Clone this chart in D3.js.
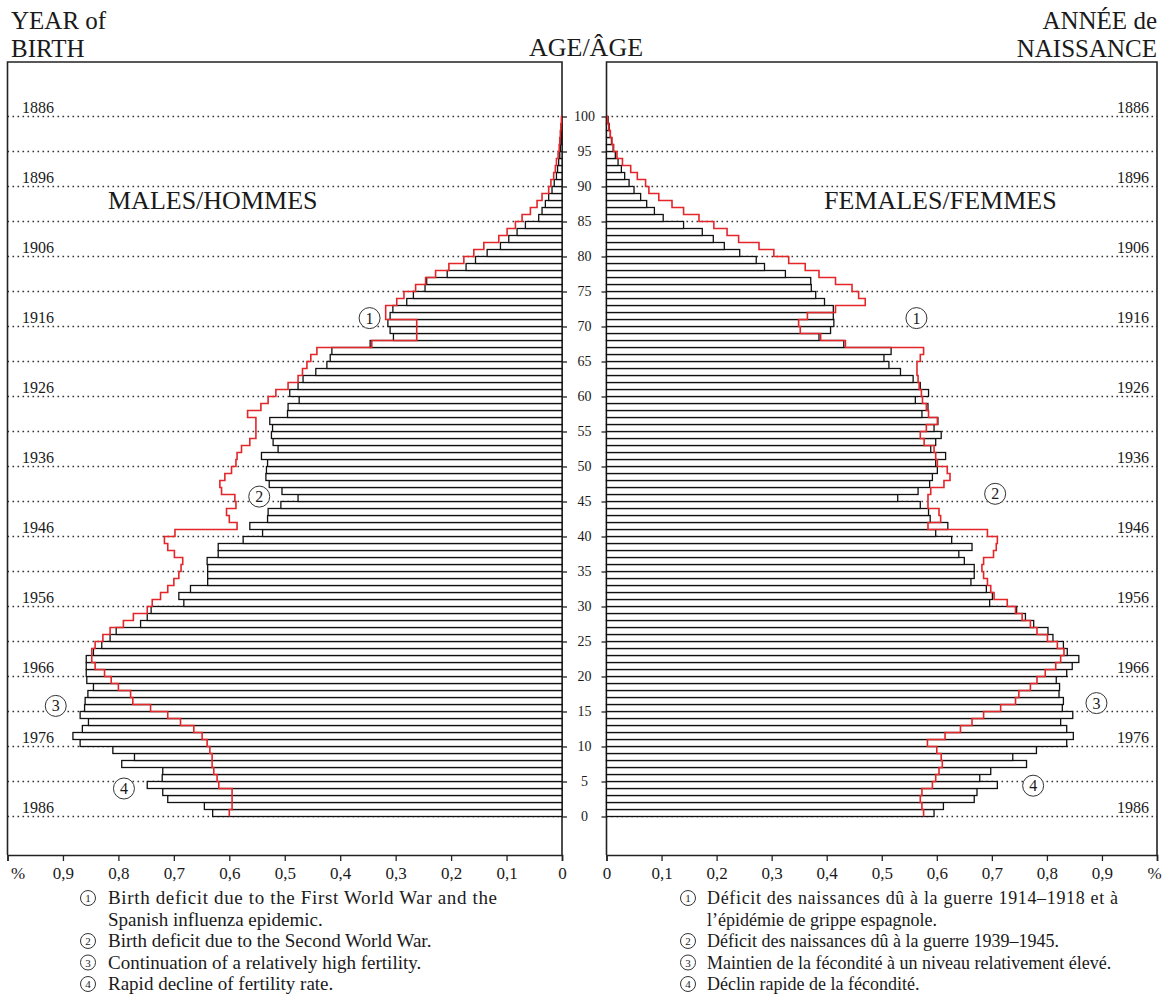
<!DOCTYPE html>
<html><head><meta charset="utf-8">
<script src="https://cdn.jsdelivr.net/npm/d3@7/dist/d3.min.js"></script>
<style>
html,body{margin:0;padding:0;background:#fff;}
svg text{font-family:"Liberation Serif","Times New Roman",serif;fill:#1a1a1a;}
</style></head>
<body><svg id="c" width="1165" height="997"></svg>
<script>
// ---- data: share of total population (%) by single year of age 0..99 ----
const ages = d3.range(0, 100);
const maleShare = [0.630,0.645,0.711,0.720,0.748,0.721,0.720,0.794,0.771,0.810,
 0.869,0.882,0.865,0.854,0.869,0.861,0.860,0.855,0.845,0.857,
 0.858,0.858,0.858,0.845,0.830,0.815,0.804,0.760,0.748,0.741,
 0.682,0.691,0.670,0.639,0.639,0.639,0.640,0.620,0.620,0.575,
 0.540,0.563,0.531,0.530,0.507,0.476,0.505,0.528,0.534,0.533,
 0.531,0.542,0.512,0.521,0.524,0.522,0.527,0.495,0.494,0.474,
 0.491,0.476,0.467,0.444,0.424,0.418,0.415,0.346,0.304,0.310,
 0.314,0.310,0.305,0.280,0.268,0.247,0.244,0.207,0.173,0.156,
 0.135,0.111,0.096,0.081,0.066,0.042,0.036,0.030,0.024,0.018,
 0.014,0.010,0.008,0.006,0.004,0.003,0.002,0.0015,0.001,0.0005];
const maleRef = [0.600,0.595,0.595,0.595,0.619,0.622,0.628,0.631,0.631,0.635,
 0.640,0.649,0.664,0.688,0.711,0.742,0.774,0.778,0.800,0.813,
 0.825,0.842,0.848,0.848,0.842,0.828,0.815,0.791,0.773,0.748,
 0.739,0.724,0.711,0.700,0.691,0.687,0.684,0.699,0.711,0.717,
 0.698,0.586,0.600,0.605,0.588,0.590,0.614,0.617,0.608,0.596,
 0.588,0.586,0.578,0.563,0.552,0.552,0.552,0.567,0.543,0.530,
 0.516,0.494,0.476,0.468,0.460,0.453,0.442,0.343,0.262,0.262,
 0.262,0.318,0.318,0.298,0.285,0.264,0.246,0.228,0.204,0.177,
 0.159,0.141,0.114,0.099,0.084,0.072,0.057,0.045,0.036,0.024,
 0.020,0.015,0.012,0.010,0.007,0.005,0.004,0.003,0.002,0.001];
const femaleShare = [0.595,0.612,0.668,0.673,0.710,0.678,0.698,0.763,0.738,0.781,
 0.836,0.848,0.836,0.825,0.847,0.828,0.830,0.822,0.823,0.817,
 0.836,0.846,0.858,0.837,0.830,0.811,0.802,0.776,0.761,0.745,
 0.696,0.701,0.690,0.662,0.668,0.668,0.650,0.640,0.664,0.627,
 0.598,0.620,0.588,0.585,0.570,0.529,0.566,0.587,0.592,0.601,
 0.598,0.616,0.589,0.598,0.608,0.595,0.602,0.573,0.584,0.561,
 0.585,0.570,0.557,0.534,0.513,0.504,0.517,0.431,0.386,0.407,
 0.413,0.412,0.412,0.396,0.380,0.372,0.371,0.325,0.287,0.272,
 0.242,0.214,0.194,0.174,0.140,0.103,0.087,0.073,0.062,0.050,
 0.041,0.033,0.027,0.021,0.016,0.012,0.009,0.007,0.005,0.003];
const femaleRef = [0.576,0.573,0.570,0.573,0.592,0.598,0.604,0.610,0.608,0.600,
 0.583,0.615,0.643,0.664,0.685,0.716,0.743,0.749,0.770,0.782,
 0.797,0.816,0.825,0.831,0.819,0.801,0.782,0.770,0.755,0.743,
 0.728,0.704,0.698,0.692,0.685,0.682,0.685,0.703,0.708,0.710,
 0.692,0.584,0.607,0.604,0.584,0.584,0.589,0.613,0.624,0.619,
 0.601,0.598,0.595,0.577,0.570,0.581,0.601,0.585,0.581,0.574,
 0.572,0.568,0.566,0.564,0.564,0.570,0.576,0.434,0.389,0.352,
 0.349,0.365,0.416,0.470,0.458,0.446,0.416,0.386,0.361,0.331,
 0.304,0.277,0.240,0.219,0.195,0.168,0.140,0.119,0.095,0.077,
 0.071,0.056,0.044,0.029,0.019,0.013,0.010,0.007,0.004,0.002];
const censusYear = 1986;
const yearLabelAges = d3.range(0, 101, 10);
const ageTicks = d3.range(0, 101, 5);
const pctTicks = [0,0.1,0.2,0.3,0.4,0.5,0.6,0.7,0.8,0.9,1.0];
const pctLabel = v => v === 1 ? "%" : (v === 0 ? "0" : d3.format(".1f")(v).replace(".", ","));
const annotations = [
  {n:1, side:"m", v:0.347, age:71.2}, {n:2, side:"m", v:0.546, age:45.7},
  {n:3, side:"m", v:0.913, age:15.8}, {n:4, side:"m", v:0.790, age:4.0},
  {n:1, side:"f", v:0.563, age:71.2}, {n:2, side:"f", v:0.706, age:46.1},
  {n:3, side:"f", v:0.890, age:16.2}, {n:4, side:"f", v:0.775, age:4.4}];
const legendEN = [
  {n:1, lines:["Birth deficit due to the First World War and the","Spanish influenza epidemic."]},
  {n:2, lines:["Birth deficit due to the Second World War."]},
  {n:3, lines:["Continuation of a relatively high fertility."]},
  {n:4, lines:["Rapid decline of fertility rate."]}];
const legendFR = [
  {n:1, lines:["Déficit des naissances dû à la guerre 1914\u20131918 et à","l\u2019épidémie de grippe espagnole."]},
  {n:2, lines:["Déficit des naissances dû à la guerre 1939\u20131945."]},
  {n:3, lines:["Maintien de la fécondité à un niveau relativement élevé."]},
  {n:4, lines:["Déclin rapide de la fécondité."]}];

// ---- layout ----
const svg = d3.select("#c");
const frameTop = 62, frameBottom = 855;
const yAge = d3.scaleLinear().domain([0, 100]).range([816.5, 116.5]);
const xM = d3.scaleLinear().domain([0, 1]).range([562, 7.5]);
const xF = d3.scaleLinear().domain([0, 1]).range([606.5, 1157]);
const RED = "#e3262a";

function panel(x, share, ref, side) {
  const g = svg.append("g");
  const x0 = x(0), x1 = x(1);
  g.selectAll("line.dot").data(ageTicks).join("line")
    .attr("x1", Math.min(x0, x1)).attr("x2", Math.max(x0, x1))
    .attr("y1", d => yAge(d)).attr("y2", d => yAge(d))
    .attr("stroke", "#333").attr("stroke-width", 1.3).attr("stroke-dasharray", "1.6,3.4");
  g.append("path")
    .attr("d", `M${x0},${frameBottom}V${frameTop}H${x1}V${frameBottom}`)
    .attr("fill", "none").attr("stroke", "#222").attr("stroke-width", 1.6);
  g.selectAll("rect").data(ages).join("rect")
    .attr("x", a => Math.min(x(0), x(share[a])))
    .attr("width", a => Math.abs(x(share[a]) - x(0)))
    .attr("y", a => yAge(a + 1)).attr("height", a => yAge(a) - yAge(a + 1))
    .attr("fill", "#fff").attr("stroke", "#111").attr("stroke-width", 1.3);
  const pts = [];
  ages.forEach(a => { pts.push([x(ref[a]), yAge(a)]); pts.push([x(ref[a]), yAge(a + 1)]); });
  pts.push([x(0), yAge(100)]);
  g.append("path").attr("d", d3.line()(pts)).attr("fill", "none")
    .attr("stroke", RED).attr("stroke-width", 1.6);
  const ax = side === "m" ? d3.axisRight(yAge) : d3.axisLeft(yAge);
  const ag = g.append("g").attr("transform", `translate(${x0},0)`)
    .call(ax.tickValues(ageTicks).tickSize(5).tickFormat(""));
  ag.select(".domain").remove();
  ag.selectAll("line").attr("stroke", "#222").attr("stroke-width", 1.3);
  const bg = g.append("g").attr("transform", `translate(0,${frameBottom})`)
    .call(d3.axisBottom(x).tickValues(pctTicks).tickSize(6).tickPadding(6).tickFormat(pctLabel));
  bg.select(".domain").attr("stroke", "#222").attr("stroke-width", 1.6);
  bg.selectAll("line").attr("stroke", "#222").attr("stroke-width", 1.3);
  bg.selectAll("text").attr("font-size", 17).style("font-family", "'Liberation Serif',serif").attr("fill", "#1a1a1a");
  bg.selectAll(".tick").filter(v => v === 1).select("text").attr("dx", side === "m" ? 10 : -3);
  g.selectAll("text.yr").data(yearLabelAges).join("text")
    .attr("x", side === "m" ? 22 : 1149)
    .attr("y", a => yAge(a) - 3.5)
    .attr("text-anchor", side === "m" ? "start" : "end")
    .attr("font-size", 16).text(a => censusYear - a);
  annotations.filter(d => d.side === side).forEach(d => {
    const cx = x(d.v), cy = yAge(d.age);
    g.append("circle").attr("cx", cx).attr("cy", cy).attr("r", 10.5)
      .attr("fill", "#fff").attr("stroke", "#333").attr("stroke-width", 1);
    g.append("text").attr("x", cx).attr("y", cy + 5.5).attr("text-anchor", "middle")
      .attr("font-size", 16).text(d.n);
  });
}
panel(xM, maleShare, maleRef, "m");
panel(xF, femaleShare, femaleRef, "f");

svg.selectAll("text.age").data(ageTicks).join("text")
  .attr("x", 584.5).attr("y", a => yAge(a) + 4.5).attr("text-anchor", "middle")
  .attr("font-size", 14).text(a => a);

const T = (x, y, s, anchor, size) => svg.append("text").attr("x", x).attr("y", y)
  .attr("text-anchor", anchor || "start").attr("font-size", size || 25).text(s);
T(11, 29, "YEAR of"); T(11, 57, "BIRTH");
T(1157, 29, "ANNÉE de", "end"); T(1157, 57, "NAISSANCE", "end");
T(586, 56, "AGE/ÂGE", "middle", 26);
T(108, 209, "MALES/HOMMES", "start", 26);
T(824, 209, "FEMALES/FEMMES", "start", 26);

function legend(items, xc, xt, firstWidth, fs) {
  let y = 904;
  items.forEach(it => {
    svg.append("circle").attr("cx", xc).attr("cy", y - 6).attr("r", 7.5)
      .attr("fill", "#fff").attr("stroke", "#333").attr("stroke-width", 1);
    svg.append("text").attr("x", xc).attr("y", y - 2).attr("text-anchor", "middle")
      .attr("font-size", 11).text(it.n);
    it.lines.forEach((ln, i) => {
      const t = svg.append("text").attr("x", xt).attr("y", y).attr("font-size", fs).text(ln);
      if (it.n === 1 && i === 0) t.attr("textLength", firstWidth).attr("lengthAdjust", "spacing");
      y += 21.5;
    });
  });
}
legend(legendEN, 88, 108, 389, 19);
legend(legendFR, 688, 707, 411, 18);
</script></body></html>
